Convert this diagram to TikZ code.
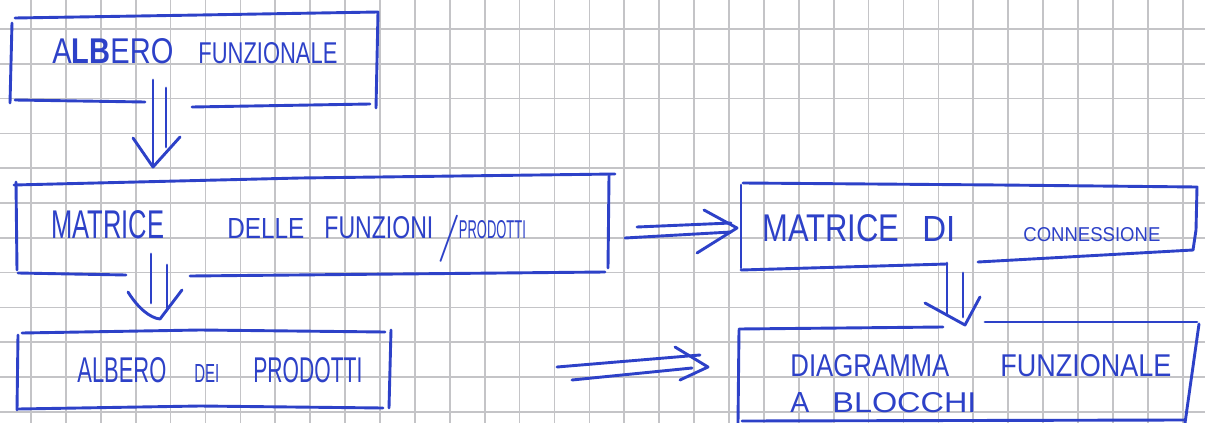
\documentclass[tikz,border=0pt]{standalone}
\usepackage{fontspec}
\setmainfont{Liberation Sans}
\usepackage{graphicx}
\usetikzlibrary{calc}

% one drawing unit = 0.5pt
\newlength\pxu
\setlength\pxu{0.5pt}
% a word set to a given width and cap height
\newcommand\hw[3]{\resizebox{#1\pxu}{#2\pxu}{#3}}
\newcommand\gap[1]{\hspace*{#1\pxu}}

\definecolor{ink}{RGB}{45,65,200}
\definecolor{gridgray}{RGB}{196,196,199}

\begin{document}
\begin{tikzpicture}[x=0.5pt,y=-0.5pt,
  pen/.style={draw=ink, line width=1.45pt, line cap=round, line join=round},
  handtext/.style={anchor=base west, inner sep=0pt, text=ink},
  gridline/.style={draw=gridgray, line width=0.85pt}]
\useasboundingbox (0,0) rectangle (1205,423);
\fill[white] (0,0) rectangle (1205,423);

% squared paper
\foreach \k in {0,...,33} \draw[gridline] ({31+34.9*\k},0) -- ({31+34.9*\k},423);
\foreach \k in {0,...,11} \draw[gridline] (0,{29+34.8*\k}) -- (1205,{29+34.8*\k});

% ---------- labels ----------
\node[handtext] (albfun) at (52,63)
  {\hw{121}{25}{A\textbf{LB}ERO}\gap{25}\hw{139}{21}{FUNZIONALE}};
\node[handtext] (matfp) at (51,238)
  {\hw{113}{28}{MATRICE}\gap{63}\hw{77}{20}{DELLE}\gap{20}\hw{109}{22}{FUNZIONI}\gap{4}%
   \raisebox{-12\pxu}{\resizebox*{!}{47\pxu}{\sffamily /}}\gap{-2}\hw{67}{18}{PRODOTTI}};
\node[handtext] (albprod) at (77,382)
  {\hw{89}{25}{ALBERO}\gap{28}\hw{25}{18}{DEI}\gap{34}\hw{109}{25}{PRODOTTI}};
\node[handtext] (matconn) at (762,241)
  {\hw{137}{27}{MATRICE}\gap{23}\hw{33}{25}{DI}\gap{68}\hw{137}{14}{CONNESSIONE}};
\node[handtext] (diagr) at (790,376)
  {\hw{159}{22}{DIAGRAMMA}\gap{51}\hw{171}{22}{FUNZIONALE}};
\node[handtext] (blocchi) at (790,412)
  {\hw{19}{20}{A}\gap{23}\hw{144}{20}{BLOCCHI}};

% ---------- frames ----------
% albero funzionale
\draw[pen] (12,23) -- (10,103);
\draw[pen] (15,18) -- (200,15) -- (378,12) -- (377,60) -- (376,108);
\draw[pen] (15,100) -- (145,102);
\draw[pen] (192,107) -- (370,104);
% matrice delle funzioni/prodotti
\draw[pen] (16,182) -- (17,270);
\draw[pen] (14,185) -- (300,178) -- (615,174);
\draw[pen] (609,176) -- (608,268);
\draw[pen] (18,273) -- (126,275);
\draw[pen] (190,276) -- (605,272);
% albero dei prodotti
\draw[pen] (22,333) -- (200,330) -- (385,332);
\draw[pen] (18,335) -- (17,410);
\draw[pen] (391,330) -- (389,408);
\draw[pen] (18,409) -- (200,406) -- (383,408);
% matrice di connessione
\draw[pen] (743,183) -- (1000,185) -- (1197,187) -- (1196,230) -- (1193,250);
\draw[pen] (741,185) -- (741,268);
\draw[pen] (741,270) -- (947,264);
\draw[pen] (978,262) -- (1193,250);
% diagramma funzionale a blocchi
\draw[pen] (739,329) -- (943,327);
\draw[pen] (985,322) -- (1197,322);
\draw[pen] (739,330) -- (738,423);
\draw[pen] (1199,324) -- (1185,423);
\draw[pen] (742,421) -- (1184,420);

% ---------- double arrows ----------
\coordinate (a1from) at (153,80);  \coordinate (a1to) at (153,167);
\coordinate (a2from) at (151,254); \coordinate (a2to) at (160,319);
\coordinate (a3from) at (947,263); \coordinate (a3to) at (965,325);
\coordinate (a4from) at (637,227); \coordinate (a4to) at (737,228);
\coordinate (a5from) at (557,367); \coordinate (a5to) at (708,367);

% albero funzionale => matrice
\draw[pen] (a1from) -- (a1to);
\draw[pen] ($(a1from)+(13,8)$) -- ($(a1to)+(13,-20)$);
\draw[pen] ($(a1to)+(-20,-29)$) -- (a1to) -- ($(a1to)+(27,-30)$);
% matrice => albero dei prodotti
\draw[pen] (a2from) -- ($(a2to)+(-9,-16)$);
\draw[pen] ($(a2from)+(16,11)$) -- ($(a2to)+(7,-9)$);
\draw[pen] ($(a2to)+(-32,-27)$) .. controls ($(a2to)+(-22,-11)$) and ($(a2to)+(-10,-1)$) .. (a2to) -- ($(a2to)+(22,-29)$);
% matrice di connessione => diagramma
\draw[pen] (a3from) -- ($(a3from)+(0,52)$);
\draw[pen] ($(a3from)+(16,10)$) -- ($(a3from)+(16,54)$);
\draw[pen] ($(a3to)+(-40,-22)$) -- (a3to) -- ($(a3to)+(15,-28)$);
% matrice => matrice di connessione
\draw[pen] (a4from) -- ($(a4to)+(-6,-5)$);
\draw[pen] ($(a4from)+(-12,11)$) -- ($(a4to)+(-6,4)$);
\draw[pen] ($(a4to)+(-33,-18)$) -- (a4to) -- ($(a4to)+(-40,25)$);
% albero dei prodotti => diagramma
\draw[pen] (a5from) -- ($(a5to)+(-8,-12)$);
\draw[pen] ($(a5from)+(15,13)$) -- ($(a5to)+(-16,1)$);
\draw[pen] ($(a5to)+(-33,-20)$) -- (a5to) -- ($(a5to)+(-28,13)$);
\end{tikzpicture}
\end{document}
